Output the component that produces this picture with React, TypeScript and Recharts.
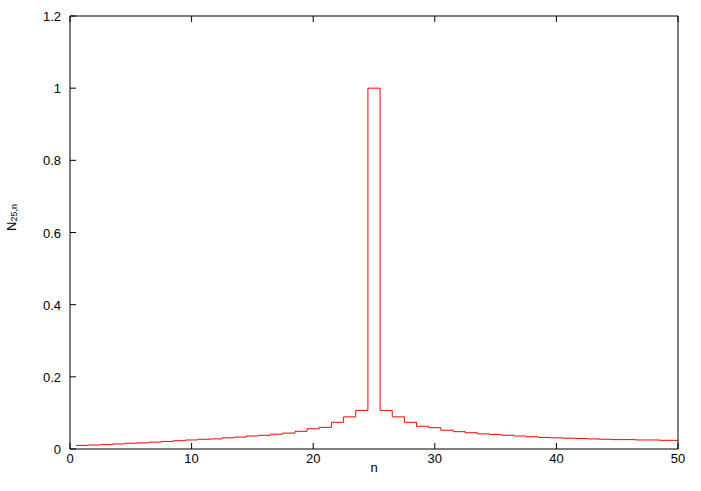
import { LineChart, Line, XAxis, YAxis } from "recharts";

// n = 1..50, value of N_{25,n}
const nValues = [
	1, 2, 3, 4, 5, 6, 7, 8, 9, 10, 11, 12, 13, 14, 15, 16, 17, 18, 19, 20, 21,
	22, 23, 24, 25, 26, 27, 28, 29, 30, 31, 32, 33, 34, 35, 36, 37, 38, 39, 40,
	41, 42, 43, 44, 45, 46, 47, 48, 49, 50,
];
const n25Values = [
	0.01, 0.011, 0.012, 0.014, 0.016, 0.017, 0.019, 0.021, 0.023, 0.025, 0.027,
	0.028, 0.031, 0.033, 0.036, 0.038, 0.041, 0.044, 0.049, 0.056, 0.06, 0.074,
	0.089, 0.107, 1.0, 0.107, 0.089, 0.074, 0.063, 0.059, 0.052, 0.048, 0.045,
	0.042, 0.04, 0.038, 0.036, 0.034, 0.032, 0.031, 0.03, 0.029, 0.028, 0.027,
	0.026, 0.026, 0.025, 0.025, 0.024, 0.024,
];
const xTicks = [0, 10, 20, 30, 40, 50];
const yTicks = [0, 0.2, 0.4, 0.6, 0.8, 1, 1.2];

const X_MAX = 50;

// histogram steps: each value spans n-0.5 .. n+0.5
const stepData = [
	...nValues.map((n, i) => ({ x: n - 0.5, y: n25Values[i] })),
	{
		x: Math.min(nValues[nValues.length - 1] + 0.5, X_MAX),
		y: n25Values[n25Values.length - 1],
	},
];

const FONT = "'Liberation Sans', Arial, sans-serif";
const FS = 13;
const TICK = 6;

const BottomTick = (p: any) => (
	<g>
		<line x1={p.x} y1={p.y} x2={p.x} y2={p.y - TICK} stroke="#000" />
		<text
			x={p.x}
			y={p.y + 14}
			textAnchor="middle"
			fontSize={FS}
			fontFamily={FONT}
			fill="#000"
		>
			{p.payload.value}
		</text>
	</g>
);

const TopTick = (p: any) => (
	<line x1={p.x} y1={p.y} x2={p.x} y2={p.y + TICK} stroke="#000" />
);

const LeftTick = (p: any) => (
	<g>
		<line x1={p.x} y1={p.y} x2={p.x + TICK} y2={p.y} stroke="#000" />
		<text
			x={p.x - 9}
			y={p.y + 5}
			textAnchor="end"
			fontSize={FS}
			fontFamily={FONT}
			fill="#000"
		>
			{p.payload.value}
		</text>
	</g>
);

const RightTick = (p: any) => (
	<line x1={p.x} y1={p.y} x2={p.x - TICK} y2={p.y} stroke="#000" />
);

export default function App() {
	return (
		<div style={{ position: "absolute", left: 0, top: 0, background: "#fff" }}>
			<LineChart
				width={701}
				height={491}
				data={stepData}
				margin={{ top: 0, right: 0, bottom: 0, left: 0 }}
			>
				<XAxis
					xAxisId="bottom"
					type="number"
					dataKey="x"
					domain={[0, X_MAX]}
					ticks={xTicks}
					interval={0}
					height={42}
					tickSize={0}
					tickMargin={0}
					tickLine={false}
					axisLine={{ stroke: "#000" }}
					tick={BottomTick}
					allowDataOverflow
					label={{
						content: () => (
							<text
								x={374}
								y={472}
								textAnchor="middle"
								fontSize={FS}
								fontFamily={FONT}
								fill="#000"
							>
								n
							</text>
						),
					}}
				/>
				<XAxis
					xAxisId="top"
					orientation="top"
					type="number"
					dataKey="x"
					domain={[0, X_MAX]}
					ticks={xTicks}
					interval={0}
					height={16}
					tickSize={0}
					tickMargin={0}
					tickLine={false}
					axisLine={{ stroke: "#000" }}
					tick={TopTick}
					allowDataOverflow
				/>
				<YAxis
					yAxisId="left"
					type="number"
					domain={[0, 1.2]}
					ticks={yTicks}
					interval={0}
					width={70}
					tickSize={0}
					tickMargin={0}
					tickLine={false}
					axisLine={{ stroke: "#000" }}
					tick={LeftTick}
					label={{
						content: () => (
							<text
								x={16}
								y={231}
								transform="rotate(-90, 16, 231)"
								fontSize={FS}
								fontFamily={FONT}
								fill="#000"
							>
								N
								<tspan fontSize={9} dy={1}>
									25,n
								</tspan>
							</text>
						),
					}}
				/>
				<YAxis
					yAxisId="right"
					orientation="right"
					type="number"
					domain={[0, 1.2]}
					ticks={yTicks}
					interval={0}
					width={23}
					tickSize={0}
					tickMargin={0}
					tickLine={false}
					axisLine={{ stroke: "#000" }}
					tick={RightTick}
				/>
				<Line
					xAxisId="bottom"
					yAxisId="left"
					type="stepAfter"
					dataKey="y"
					stroke="#ff0000"
					strokeWidth={1}
					dot={false}
					activeDot={false}
					isAnimationActive={false}
				/>
			</LineChart>
		</div>
	);
}
